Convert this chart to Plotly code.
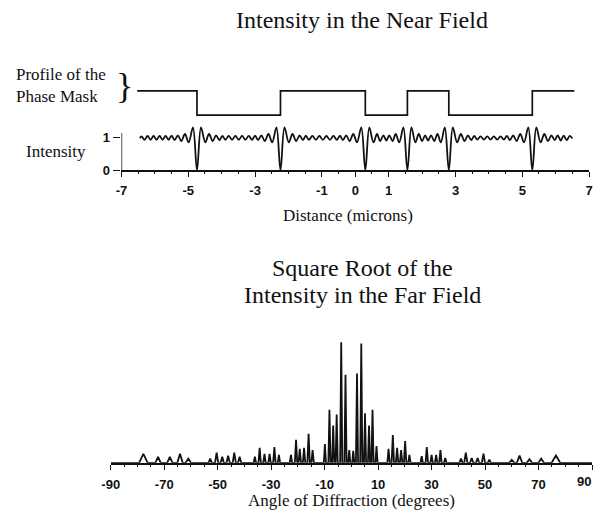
import plotly.graph_objects as go

# ---------------- data ----------------
# Phase mask profile (step function): edge positions in microns and level after each edge
mask_x = [-6.53, -4.74, -2.24, 0.30, 1.56, 2.80, 5.30, 6.56]
mask_level = [2.45, 1.70, 2.45, 1.70, 2.45, 1.70, 2.45, 2.45]

# Near-field intensity: turning points of the trace (microns, relative intensity)
near_x = [
    -6.45, -6.40, -6.31, -6.22, -6.13, -6.04, -5.95, -5.86, -5.77, -5.68, -5.59, -5.50, -5.41, -5.31, -5.21, -5.10, -4.99, -4.86, -4.74,
    -4.62, -4.49, -4.38, -4.27, -4.17, -4.07, -3.98, -3.89, -3.79, -3.69, -3.59, -3.49, -3.39, -3.29, -3.19, -3.09, -3.00, -2.91, -2.81, -2.71, -2.60, -2.49, -2.36, -2.24,
    -2.12, -1.99, -1.88, -1.77, -1.67, -1.57, -1.48, -1.39, -1.285, -1.18, -1.075, -0.97, -0.865, -0.76, -0.655, -0.55, -0.46, -0.37, -0.27, -0.17, -0.06, 0.05, 0.18, 0.30,
    0.42, 0.545, 0.65, 0.745, 0.84, 0.93, 1.02, 1.115, 1.21, 1.315, 1.44, 1.56,
    1.68, 1.80, 1.90, 2.00, 2.09, 2.18, 2.27, 2.365, 2.46, 2.56, 2.68, 2.80,
    2.92, 3.05, 3.16, 3.27, 3.37, 3.47, 3.56, 3.65, 3.75, 3.85, 3.95, 4.05, 4.15, 4.25, 4.35, 4.45, 4.54, 4.63, 4.73, 4.83, 4.94, 5.05, 5.18, 5.30,
    5.42, 5.55, 5.66, 5.77, 5.87, 5.97, 6.06, 6.15, 6.24, 6.33, 6.42, 6.50,
]
near_y = [
    0.99, 1.05, 0.94, 1.06, 0.94, 1.06, 0.94, 1.06, 0.94, 1.06, 0.94, 1.07, 0.93, 1.08, 0.90, 1.12, 0.86, 1.32, 0.00,
    1.32, 0.86, 1.12, 0.90, 1.08, 0.93, 1.06, 0.94, 1.06, 0.94, 1.06, 0.94, 1.06, 0.94, 1.06, 0.94, 1.07, 0.93, 1.08, 0.90, 1.12, 0.86, 1.32, 0.00,
    1.32, 0.86, 1.12, 0.90, 1.08, 0.93, 1.07, 0.94, 1.06, 0.94, 1.06, 0.94, 1.06, 0.94, 1.06, 0.94, 1.07, 0.93, 1.08, 0.90, 1.12, 0.86, 1.32, 0.00,
    1.32, 0.86, 1.12, 0.90, 1.08, 0.92, 1.08, 0.90, 1.12, 0.86, 1.32, 0.00,
    1.32, 0.86, 1.12, 0.90, 1.08, 0.92, 1.08, 0.90, 1.12, 0.86, 1.32, 0.00,
    1.32, 0.86, 1.12, 0.90, 1.08, 0.93, 1.06, 0.95, 1.05, 0.95, 1.05, 0.95, 1.05, 0.95, 1.05, 0.95, 1.06, 0.93, 1.08, 0.90, 1.12, 0.86, 1.32, 0.00,
    1.32, 0.86, 1.12, 0.90, 1.08, 0.93, 1.08, 0.92, 1.07, 0.93, 1.06, 0.98,
]
assert len(near_x) == len(near_y)

# Far field: diffraction orders (angle in degrees, relative amplitude)
far_angle = [
    -77.8, -72.3, -67.9, -64.1, -61.0,
    -52.8, -50.4, -48.3, -46.1, -43.8, -41.8,
    -36.1, -34.3, -32.5, -30.6, -28.8, -27.1,
    -22.6, -20.7, -19.3, -17.7, -16.0, -14.5,
    -9.9, -8.2, -6.8, -5.5, -3.8, -2.2, -0.8, 0.7, 2.1, 3.7, 5.1, 6.6, 7.9, 9.4,
    13.9, 15.5, 17.1, 18.6, 20.1, 21.7,
    26.3, 28.2, 30.0, 31.7, 33.3, 35.1,
    41.0, 42.8, 45.0, 47.2, 49.4, 51.6,
    60.0, 62.9, 66.6, 71.0, 76.5,
]
far_amp = [
    0.075, 0.05, 0.05, 0.075, 0.035,
    0.035, 0.085, 0.05, 0.06, 0.085, 0.05,
    0.05, 0.125, 0.075, 0.075, 0.13, 0.065,
    0.065, 0.19, 0.115, 0.125, 0.24, 0.105,
    0.155, 0.44, 0.31, 0.40, 1.00, 0.73, 0.105, 0.10, 0.74, 0.99, 0.41, 0.31, 0.44, 0.14,
    0.115, 0.23, 0.125, 0.105, 0.18, 0.065,
    0.055, 0.13, 0.065, 0.065, 0.105, 0.04,
    0.035, 0.085, 0.04, 0.04, 0.075, 0.025,
    0.025, 0.06, 0.03, 0.035, 0.06,
]
assert len(far_angle) == len(far_amp)

near_ticks = [-7, -5, -3, -1, 0, 1, 3, 5, 7]
far_ticks = [-90, -70, -50, -30, -10, 10, 30, 50, 70, 90]

# ---------------- layout helpers ----------------
W, H = 597, 523


def px(x):
    return x / W


def py(y):
    return 1 - y / H


def half_width(a):
    # orders get broader the further they are diffracted
    a = abs(a)
    if a < 12:
        return 0.4
    if a < 38:
        return 0.45
    if a < 56:
        return 0.6
    if a < 75:
        return 1.0
    return 1.6


# far-field trace: each order drawn as a narrow peak on the zero line
fx, fy = [-90.0], [0.0]
for a, h in zip(far_angle, far_amp):
    w = half_width(a)
    fx += [a - w, a, a + w]
    fy += [0.0, h, 0.0]
fx.append(90.0)
fy.append(0.0)

INK = "#111111"
SERIF = "Liberation Serif"
SANS = "Liberation Sans"

fig = go.Figure()

fig.add_trace(go.Scatter(
    x=mask_x, y=mask_level, mode="lines", line=dict(color=INK, width=1.7, shape="hv"),
    xaxis="x", yaxis="y", hoverinfo="skip", showlegend=False))
fig.add_trace(go.Scatter(
    x=near_x, y=near_y, mode="lines", line=dict(color=INK, width=1.8, shape="spline", smoothing=1.0),
    xaxis="x", yaxis="y", hoverinfo="skip", showlegend=False))
fig.add_trace(go.Scatter(
    x=fx, y=fy, mode="lines", line=dict(color=INK, width=1.8),
    xaxis="x2", yaxis="y2", hoverinfo="skip", showlegend=False))

tickfont = dict(family=SANS, size=13, color=INK, weight="bold")

fig.update_layout(
    width=W, height=H,
    margin=dict(l=0, r=0, t=0, b=0),
    paper_bgcolor="white", plot_bgcolor="white",
    xaxis=dict(
        domain=[px(115), px(593)], range=[-7, 7], anchor="y",
        showgrid=False, zeroline=False, showline=True, linecolor=INK, linewidth=1.6,
        tickmode="array", tickvals=near_ticks, ticktext=[str(t) for t in near_ticks],
        ticks="outside", ticklen=5, tickwidth=1.3, tickcolor=INK, tickfont=tickfont,
        ticklabelstandoff=2,
        minor=dict(tickmode="linear", tick0=0, dtick=0.5, ticks="outside", ticklen=2,
                   tickwidth=1, tickcolor=INK, showgrid=False),
    ),
    yaxis=dict(
        domain=[py(173), py(84)], range=[0, 2.7], anchor="x",
        showgrid=False, zeroline=False, showline=False,
        tickmode="array", tickvals=[0, 1], ticktext=["0", "1"],
        ticks="outside", ticklen=7, tickwidth=1.3, tickcolor=INK, tickfont=tickfont,
        ticklabelstandoff=1,
    ),
    xaxis2=dict(
        domain=[px(104), px(596)], range=[-90, 90], anchor="y2",
        showgrid=False, zeroline=False, showline=True, linecolor=INK, linewidth=1.6,
        tickmode="array", tickvals=far_ticks, ticktext=[str(t) for t in far_ticks],
        ticks="outside", ticklen=5, tickwidth=1.3, tickcolor=INK, tickfont=tickfont,
        ticklabelstandoff=4,
        minor=dict(tickmode="linear", tick0=0, dtick=5, ticks="outside", ticklen=2,
                   tickwidth=1, tickcolor=INK, showgrid=False),
    ),
    yaxis2=dict(
        domain=[py(470), py(345.6)], range=[0, 1.016], anchor="x2",
        showgrid=False, zeroline=False, showline=False, showticklabels=False, ticks="",
    ),
    shapes=[
        dict(type="line", xref="x", yref="y", x0=-7, x1=-7, y0=0, y1=1.15,
             line=dict(color=INK, width=1.4)),
    ],
)


def label(text, x, y, size, anchor="center", family=SERIF, weight="normal"):
    fig.add_annotation(
        text=text, x=px(x), y=py(y), xref="paper", yref="paper",
        xanchor=anchor, yanchor="middle", showarrow=False,
        font=dict(family=family, size=size, color=INK, weight=weight))


# the last angle label sits at the right page edge; keep it inside the page
label(str(far_ticks[-1]), 597, 489, 13, anchor="right", family=SANS, weight="bold")

label("Intensity in the Near Field", 361, 20, 24)
label("Profile of the", 5, 76, 17, anchor="left")
label("Phase Mask", 5, 98, 17, anchor="left")
label("}", 118, 87, 36)
label("Intensity", 15, 154, 17, anchor="left")
label("Distance (microns)", 347, 219, 17)
label("Square Root of the", 361, 272, 24)
label("Intensity in the Far Field", 361, 300, 24)
label("Angle of Diffraction (degrees)", 350, 508, 17)

fig.write_html("out.html")
